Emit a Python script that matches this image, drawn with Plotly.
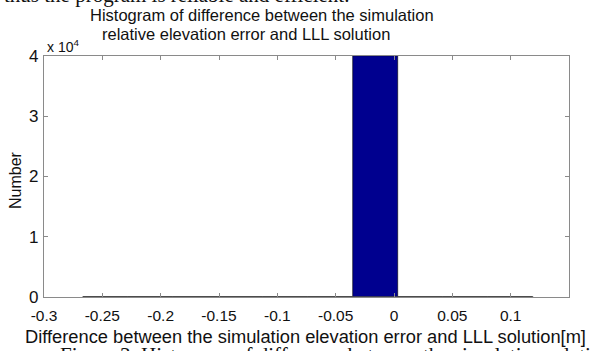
import plotly.graph_objects as go

# Histogram bins (centres, common width) and counts
bin_centers = [-0.2473, -0.2087, -0.1701, -0.1315, -0.0929,
               -0.0543, -0.0157, 0.0229, 0.0615, 0.1001]
bin_width = 0.0386
counts = [1, 0, 0, 0, 0, 2, 39960, 26, 7, 2]

x_ticks = [-0.3, -0.25, -0.2, -0.15, -0.1, -0.05, 0, 0.05, 0.1]
x_tick_text = ["-0.3", "-0.25", "-0.2", "-0.15", "-0.1", "-0.05", "0", "0.05", "0.1"]
y_ticks = [0, 10000, 20000, 30000, 40000]
y_tick_text = ["0", "1", "2", "3", "4"]

W, H = 600, 351
L, R, T, B = 44, 31, 56, 54
plot_h = H - T - B


def py(px):
    """Pixel row -> paper y coordinate."""
    return (H - B - px) / plot_h


def px_x(px):
    return (px - L) / (W - L - R)


AX = "#8a8a8a"
FONT = "Liberation Sans, Arial, sans-serif"
SERIF = "Liberation Serif, Times New Roman, serif"

fig = go.Figure()

# baseline drawn by the empty bins
left_edge = bin_centers[0] - bin_width / 2
right_edge = bin_centers[-1] + bin_width / 2
fig.add_trace(go.Scatter(
    x=[left_edge, right_edge], y=[0, 0], mode="lines",
    line=dict(color="#555555", width=1.2), hoverinfo="skip",
    showlegend=False, cliponaxis=False,
))

fig.add_trace(go.Bar(
    x=bin_centers, y=counts, width=bin_width,
    marker=dict(color="#00008F", line=dict(color="#000000", width=0.6)),
    showlegend=False,
))

axis_common = dict(
    showline=True, linecolor=AX, linewidth=1.3, mirror="ticks",
    ticks="inside", ticklen=4, tickcolor=AX, tickwidth=1,
    showgrid=False, zeroline=False,
)

fig.update_layout(
    width=W, height=H,
    margin=dict(l=L, r=R, t=T, b=B),
    paper_bgcolor="white", plot_bgcolor="white",
    bargap=0,
    xaxis=dict(range=[-0.3, 0.15], tickvals=x_ticks, ticktext=x_tick_text,
               ticklabelstandoff=4,
               tickfont=dict(family=FONT, size=15.5, color="#111111"),
               **axis_common),
    yaxis=dict(range=[0, 40000], tickvals=y_ticks, ticktext=y_tick_text,
               ticklabelstandoff=1,
               tickfont=dict(family=FONT, size=17, color="#111111"),
               **axis_common),
    font=dict(family=FONT, color="#111111"),
)

annotations = [
    # title, two lines
    dict(text="Histogram of difference between the simulation",
         x=px_x(262), y=py(15), font=dict(size=16.5)),
    dict(text="relative elevation error and LLL solution",
         x=px_x(246), y=py(34), font=dict(size=16.5)),
    # axis multiplier
    dict(text="x 10<sup>4</sup>", x=px_x(45), y=py(46), xanchor="left",
         font=dict(size=14)),
    # axis titles
    dict(text="Difference between the simulation elevation error and LLL solution[m]",
         x=px_x(305), y=py(336), font=dict(size=18.3)),
    dict(text="Number", x=px_x(15), y=py(180), textangle=-90,
         font=dict(size=16)),
    # surrounding document text
    dict(text="thus the program is reliable and efficient.",
         x=px_x(2), y=py(9), xanchor="left", yanchor="bottom",
         font=dict(family=SERIF, size=21)),
    dict(text="Figure 3. Histogram of difference between the simulation relative elevation error",
         x=px_x(58), y=py(341), xanchor="left", yanchor="top",
         font=dict(family=SERIF, size=21)),
]
for a in annotations:
    a.setdefault("xref", "paper")
    a.setdefault("yref", "paper")
    a.setdefault("showarrow", False)
    a.setdefault("xanchor", "center")
    a.setdefault("yanchor", "middle")
    fig.add_annotation(**a)

fig.write_html("out.html")
